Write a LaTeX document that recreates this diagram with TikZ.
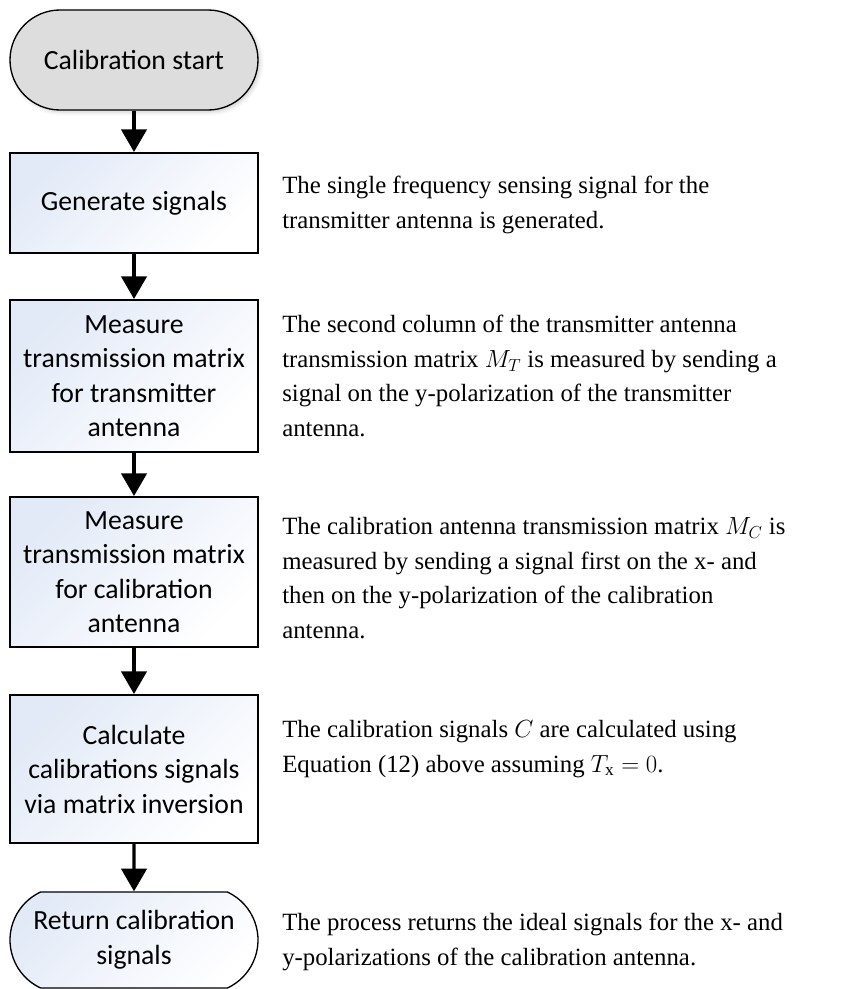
\RequirePackage{fix-cm}
\documentclass[tikz,border=0pt]{standalone}
\usepackage{fontspec}
\setmainfont{Liberation Serif}
\newfontfamily\boxfont{Carlito}
\usepackage{xcolor}
\usetikzlibrary{arrows.meta,shapes.misc,shadows.blur}

\definecolor{startgray}{RGB}{221,221,221}
\definecolor{boxtint}{RGB}{226,234,247}

\begin{document}
\begin{tikzpicture}[x=0.75pt, y=-0.75pt,
  every node/.style={inner sep=0pt},
  base/.style={draw, align=center, minimum width=186pt,
    font={\boxfont\fontsize{20.8}{25.9}\selectfont}},
  tint/.style={top color=boxtint, bottom color=white, shading angle=45},
  stepbox/.style={base, tint, line width=1.5pt},
  terminal/.style={base, rounded rectangle, line width=1pt},
  note/.style={anchor=west, align=left,
    font={\fontsize{18.6}{25.9}\selectfont}},
  flow/.style={line width=2.5pt, -{Triangle[length=17pt,width=19pt]}}]
  \useasboundingbox (0,0) rectangle (867,989);

  % Start
  \node[terminal, fill=startgray, minimum height=75pt,
    blur shadow={shadow xshift=1.5pt, shadow yshift=-1.5pt,
      shadow blur radius=3pt, shadow opacity=20}]
    (start) at (134,60) {Calibration start};

  % Steps
  \node[stepbox, minimum height=75pt] (gen) at (134,203) {Generate signals};
  \node[stepbox, minimum height=114pt] (meastx) at (134,376)
    {Measure\\transmission matrix\\for transmitter\\antenna};
  \node[stepbox, minimum height=112.5pt] (meascal) at (134,572)
    {Measure\\transmission matrix\\for calibration\\antenna};
  \node[stepbox, minimum height=111pt] (calc) at (134,769)
    {Calculate\\calibrations signals\\via matrix inversion};

  % End
  \node[terminal, tint, minimum height=72pt,
    rounded rectangle arc length=130] (ret) at (134,940)
    {Return calibration\\signals};

  % Flow
  \draw[flow] (start) -- (gen);
  \draw[flow] (gen) -- (meastx);
  \draw[flow] (meastx) -- (meascal);
  \draw[flow] (meascal) -- (calc);
  \draw[flow] (calc) -- (ret);

  % Notes
  \node[note] (genNote) at (282,205)
    {The single frequency sensing signal for the\\transmitter antenna is generated.};
  \node[note] (meastxNote) at (282,376)
    {The second column of the transmitter antenna\\transmission matrix $M_T$ is measured by sending a\\signal on the y-polarization of the transmitter\\antenna.};
  \node[note] (meascalNote) at (282,578)
    {The calibration antenna transmission matrix $M_C$ is\\measured by sending a signal first on the x- and\\then on the y-polarization of the calibration\\antenna.};
  \node[note] (calcNote) at (282,749)
    {The calibration signals $C$ are calculated using\\Equation (12) above assuming $T_{\mathrm{x}} = 0$.};
  \node[note] (retNote) at (282,942)
    {The process returns the ideal signals for the x- and\\y-polarizations of the calibration antenna.};
\end{tikzpicture}
\end{document}
